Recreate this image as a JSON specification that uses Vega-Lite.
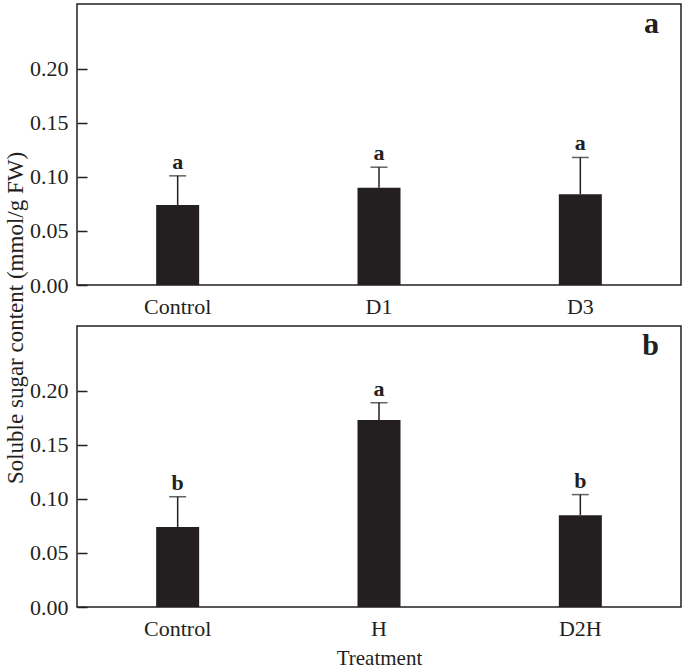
{
  "$schema": "https://vega.github.io/schema/vega-lite/v6.json",
  "background": "white",
  "padding": {"left": 4, "top": 3, "right": 1, "bottom": 1},
  "datasets": {
    "sugar": [
      {"panel": "a", "treatment": "Control", "mean": 0.074, "upper": 0.101, "letter": "a"},
      {"panel": "a", "treatment": "D1", "mean": 0.090, "upper": 0.109, "letter": "a"},
      {"panel": "a", "treatment": "D3", "mean": 0.084, "upper": 0.118, "letter": "a"},
      {"panel": "b", "treatment": "Control", "mean": 0.074, "upper": 0.102, "letter": "b"},
      {"panel": "b", "treatment": "H", "mean": 0.173, "upper": 0.189, "letter": "a"},
      {"panel": "b", "treatment": "D2H", "mean": 0.085, "upper": 0.104, "letter": "b"}
    ]
  },
  "title": {"text": "Soluble sugar content (mmol/g FW)", "orient": "left", "anchor": "middle", "font": "Liberation Serif", "fontSize": 23, "fontWeight": "normal", "color": "#231f20", "offset": 1, "dx": 18},
  "spacing": 7,
  "config": {
    "font": "Liberation Serif",
    "view": {"stroke": "#231f20", "strokeWidth": 1.5},
    "axis": {"labelFont": "Liberation Serif", "labelFontSize": 22, "labelColor": "#231f20", "titleFont": "Liberation Serif", "titleFontSize": 21, "titleFontWeight": "normal", "titleColor": "#231f20", "grid": false, "domain": false}
  },
  "vconcat": [
    {
      "width": 604, "height": 281,
      "title": {"text": "a", "anchor": "end", "orient": "top", "font": "Liberation Serif", "fontSize": 30, "fontWeight": "bold", "color": "#231f20", "dx": -22, "dy": 35, "offset": 0},
      "data": {"name": "sugar"},
      "transform": [{"filter": "datum.panel == 'a'"}],
      "encoding": {
        "x": {"field": "treatment", "type": "nominal", "sort": null, "scale": {"paddingInner": 0, "paddingOuter": 0}, "axis": {"title": null, "ticks": false, "labelAngle": 0, "labelPadding": 11}}
      },
      "layer": [
        {"mark": {"type": "bar", "width": 43, "color": "#231f20"},
         "encoding": {"y": {"field": "mean", "type": "quantitative", "scale": {"domain": [0, 0.25]}, "axis": {"title": null, "values": [0, 0.05, 0.1, 0.15, 0.2], "format": ".2f", "offset": -10, "tickSize": 10, "tickWidth": 1.5, "tickColor": "#231f20", "labelPadding": 9}}}},
        {"mark": {"type": "rule", "strokeWidth": 1.5, "color": "#231f20"},
         "encoding": {"y": {"field": "mean", "type": "quantitative"}, "y2": {"field": "upper"}}},
        {"mark": {"type": "tick", "size": 17, "thickness": 1.5, "color": "#231f20"},
         "encoding": {"y": {"field": "upper", "type": "quantitative"}}},
        {"mark": {"type": "text", "baseline": "alphabetic", "dy": -7, "fontSize": 22, "fontWeight": "bold", "color": "#231f20"},
         "encoding": {"y": {"field": "upper", "type": "quantitative"}, "text": {"field": "letter"}}}
      ]
    },
    {
      "width": 604, "height": 281,
      "title": {"text": "b", "anchor": "end", "orient": "top", "font": "Liberation Serif", "fontSize": 30, "fontWeight": "bold", "color": "#231f20", "dx": -22, "dy": 35, "offset": 0},
      "data": {"name": "sugar"},
      "transform": [{"filter": "datum.panel == 'b'"}],
      "encoding": {
        "x": {"field": "treatment", "type": "nominal", "sort": null, "scale": {"paddingInner": 0, "paddingOuter": 0}, "axis": {"title": "Treatment", "ticks": false, "labelAngle": 0, "labelPadding": 11, "titlePadding": 8}}
      },
      "layer": [
        {"mark": {"type": "bar", "width": 43, "color": "#231f20"},
         "encoding": {"y": {"field": "mean", "type": "quantitative", "scale": {"domain": [0, 0.25]}, "axis": {"title": null, "values": [0, 0.05, 0.1, 0.15, 0.2], "format": ".2f", "offset": -10, "tickSize": 10, "tickWidth": 1.5, "tickColor": "#231f20", "labelPadding": 9}}}},
        {"mark": {"type": "rule", "strokeWidth": 1.5, "color": "#231f20"},
         "encoding": {"y": {"field": "mean", "type": "quantitative"}, "y2": {"field": "upper"}}},
        {"mark": {"type": "tick", "size": 17, "thickness": 1.5, "color": "#231f20"},
         "encoding": {"y": {"field": "upper", "type": "quantitative"}}},
        {"mark": {"type": "text", "baseline": "alphabetic", "dy": -7, "fontSize": 22, "fontWeight": "bold", "color": "#231f20"},
         "encoding": {"y": {"field": "upper", "type": "quantitative"}, "text": {"field": "letter"}}}
      ]
    }
  ]
}
